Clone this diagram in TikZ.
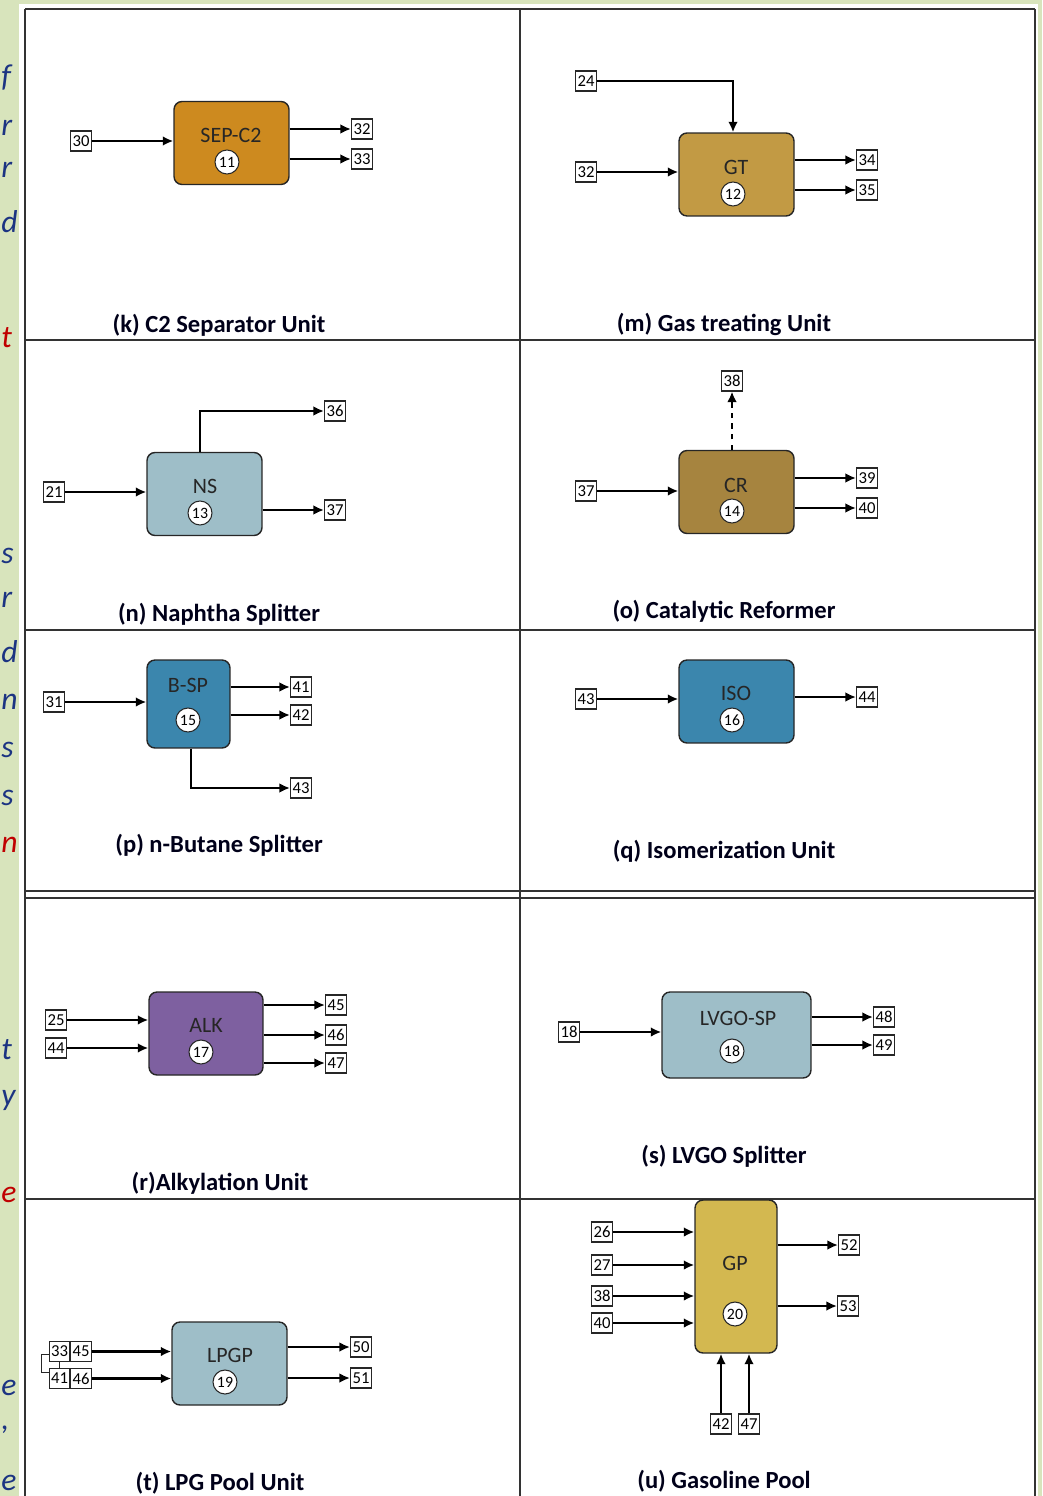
\documentclass[tikz,border=0pt]{standalone}
\usepackage{fontspec}
\setmainfont{Carlito}
\usetikzlibrary{arrows.meta,positioning}

\begin{document}
\begin{tikzpicture}[x=0.02cm,y=-0.02cm,
    unit/.style={draw=black!85,line width=0.8pt,rounded corners=0.16cm,minimum width=2.3cm,minimum height=1.66cm},
    unitlbl/.style={font=\fontsize{12.5}{12.5}\selectfont,text=black!85},
    tag/.style={circle,draw=black!85,fill=white,line width=0.6pt,inner sep=0pt,minimum size=0.48cm,font=\fontsize{9}{9}\selectfont},
    strm/.style={draw=black!85,fill=white,line width=0.6pt,inner sep=0pt,minimum width=0.42cm,minimum height=0.4cm,font=\fontsize{9.5}{9.5}\selectfont},
    flow/.style={draw=black,line width=1.2pt,-{Latex[length=6pt,width=5.5pt]}},
    subcap/.style={font=\fontsize{14}{14}\selectfont\bfseries,text=black!90!blue},
    frame/.style={draw=black!80,line width=0.7pt},
    frag/.style={font=\fontsize{18}{18}\selectfont\itshape,anchor=west,inner sep=0pt}]
    \definecolor{sepc}{RGB}{205,138,31}
    \definecolor{gtc}{RGB}{194,154,68}
    \definecolor{lbluec}{RGB}{158,190,200}
    \definecolor{crc}{RGB}{166,132,63}
    \definecolor{bluec}{RGB}{59,134,173}
    \definecolor{alkc}{RGB}{126,96,160}
    \definecolor{gpc}{RGB}{211,184,80}
    \definecolor{stripc}{RGB}{216,228,188}
    \definecolor{fragblue}{RGB}{28,52,130}
    \definecolor{fragred}{RGB}{192,0,0}
    \useasboundingbox (0,0) rectangle (1042,1496);

    % page background and the ends of the text on the left
    \fill[stripc] (0,0) rectangle (19,1496);
    \fill[stripc] (19,0) rectangle (1042,4);
    \fill[stripc] (1038,0) rectangle (1042,1496);
    \foreach \yy/\ch in {78/f,128/r,170/r,222/d,556/s,600/r,652/d,702/n,750/s,798/s,1050/t,1100/y,1388/e,1430/{,},1483/e}
      \node[frag,text=fragblue] at (1,\yy) {\ch};
    \foreach \yy/\ch in {338/t,845/n,1195/e}
      \node[frag,text=fragred] at (1,\yy) {\ch};

    % table frame
    \draw[frame] (25,9) -- (1035,9);
    \draw[frame,line width=1pt] (25,9) -- (25,1496);
    \draw[frame] (1035,9) -- (1035,1496);
    \draw[frame] (520,9) -- (520,1496);
    \draw[frame] (25,340) -- (1035,340);
    \draw[frame] (25,630) -- (1035,630);
    \draw[frame] (25,891) -- (1035,891);
    \draw[frame] (25,898) -- (1035,898);
    \draw[frame] (25,1199) -- (1035,1199);

    % (k) C2 separator
    \node[unit,fill=sepc] (sep) at (231.5,143) {};
    \node[unitlbl] (sepl) at (231,135) {SEP-C2};
    \node[tag] (u11) at (227,162) {11};
    \node[strm] (k30) at (81,141) {30};
    \node[strm] (k32) at (362,129) {32};
    \node[strm] (k33) at (362,159) {33};
    \draw[flow] (k30.east) -- (k30 -| sep.west);
    \draw[flow] (sep.east |- k32) -- (k32.west);
    \draw[flow] (sep.east |- k33) -- (k33.west);
    \node[subcap] (capk) at (219,325) {(k) C2 Separator Unit};

    % (m) gas treating
    \node[unit,fill=gtc] (gt) at (736.5,174.5) {};
    \node[unitlbl] (gtl) at (736,167) {GT};
    \node[tag] (u12) at (733,194) {12};
    \node[strm] (m24) at (586,81) {24};
    \node[strm] (m32) at (586,172) {32};
    \node[strm] (m34) at (867,160) {34};
    \node[strm] (m35) at (867,190) {35};
    \draw[flow] (m24.east) -| ([xshift=-0.07cm]gt.north);
    \draw[flow] (m32.east) -- (m32 -| gt.west);
    \draw[flow] (gt.east |- m34) -- (m34.west);
    \draw[flow] (gt.east |- m35) -- (m35.west);
    \node[subcap] (capm) at (724,324) {(m) Gas treating Unit};

    % (n) naphtha splitter
    \node[unit,fill=lbluec] (ns) at (204.5,494) {};
    \node[unitlbl] (nsl) at (205,486) {NS};
    \node[tag] (u13) at (200,513) {13};
    \node[strm] (n21) at (54,492) {21};
    \node[strm] (n36) at (335,411) {36};
    \node[strm] (n37) at (335,510) {37};
    \draw[flow] (n21.east) -- (n21 -| ns.west);
    \draw[flow] ([xshift=-0.09cm]ns.north) |- (n36.west);
    \draw[flow] (ns.east |- n37) -- (n37.west);
    \node[subcap] (capn) at (219,614) {(n) Naphtha Splitter};

    % (o) catalytic reformer
    \node[unit,fill=crc] (cr) at (736.5,492) {};
    \node[unitlbl] (crl) at (736,485) {CR};
    \node[tag] (u14) at (732,511) {14};
    \node[strm] (o38) at (732,381) {38};
    \node[strm] (o37) at (586,491) {37};
    \node[strm] (o39) at (867,478) {39};
    \node[strm] (o40) at (867,508) {40};
    \draw[flow,dashed] (o38 |- cr.north) -- (o38.south);
    \draw[flow] (o37.east) -- (o37 -| cr.west);
    \draw[flow] (cr.east |- o39) -- (o39.west);
    \draw[flow] (cr.east |- o40) -- (o40.west);
    \node[subcap] (capo) at (724,611) {(o) Catalytic Reformer};

    % (p) n-butane splitter
    \node[unit,fill=bluec,minimum width=1.66cm,minimum height=1.76cm] (bsp) at (188.5,704) {};
    \node[unitlbl] (bspl) at (188,685) {B-SP};
    \node[tag] (u15) at (188,720) {15};
    \node[strm] (p31) at (54,702) {31};
    \node[strm] (p41) at (301,687) {41};
    \node[strm] (p42) at (301,715) {42};
    \node[strm] (p43) at (301,788) {43};
    \draw[flow] (p31.east) -- (p31 -| bsp.west);
    \draw[flow] (bsp.east |- p41) -- (p41.west);
    \draw[flow] (bsp.east |- p42) -- (p42.west);
    \draw[flow] ([xshift=0.05cm]bsp.south) |- (p43.west);
    \node[subcap] (capp) at (219,845) {(p) n-Butane Splitter};

    % (q) isomerization
    \node[unit,fill=bluec] (iso) at (736.5,701.5) {};
    \node[unitlbl] (isol) at (736,693) {ISO};
    \node[tag] (u16) at (732,720) {16};
    \node[strm] (q43) at (586,699) {43};
    \node[strm] (q44) at (867,697) {44};
    \draw[flow] (q43.east) -- (q43 -| iso.west);
    \draw[flow] (iso.east |- q44) -- (q44.west);
    \node[subcap] (capq) at (724,851) {(q) Isomerization Unit};

    % (r) alkylation
    \node[unit,fill=alkc,minimum width=2.28cm] (alk) at (206,1033.5) {};
    \node[unitlbl] (alkl) at (206,1025) {ALK};
    \node[tag] (u17) at (201,1052) {17};
    \node[strm] (r25) at (56,1020) {25};
    \node[strm] (r44) at (56,1048) {44};
    \node[strm] (r45) at (336,1005) {45};
    \node[strm] (r46) at (336,1035) {46};
    \node[strm] (r47) at (336,1063) {47};
    \draw[flow] (r25.east) -- (r25 -| alk.west);
    \draw[flow] (r44.east) -- (r44 -| alk.west);
    \draw[flow] (alk.east |- r45) -- (r45.west);
    \draw[flow] (alk.east |- r46) -- (r46.west);
    \draw[flow] (alk.east |- r47) -- (r47.west);
    \node[subcap] (capr) at (220,1183) {(r)Alkylation Unit};

    % (s) LVGO splitter
    \node[unit,fill=lbluec,minimum width=2.98cm,minimum height=1.72cm] (lvgo) at (736.5,1035) {};
    \node[unitlbl] (lvgol) at (738,1018) {LVGO-SP};
    \node[tag] (u18) at (732,1051) {18};
    \node[strm] (s18) at (569,1032) {18};
    \node[strm] (s48) at (884,1017) {48};
    \node[strm] (s49) at (884,1045) {49};
    \draw[flow] (s18.east) -- (s18 -| lvgo.west);
    \draw[flow] (lvgo.east |- s48) -- (s48.west);
    \draw[flow] (lvgo.east |- s49) -- (s49.west);
    \node[subcap] (caps) at (724,1156) {(s) LVGO Splitter};

    % (t) LPG pool
    \node[unit,fill=lbluec] (lpgp) at (229.5,1363.5) {};
    \node[unitlbl] (lpgpl) at (230,1355) {LPGP};
    \node[tag] (u19) at (225,1382) {19};
    \draw[draw=black!85,line width=0.5pt] (59.5,1354) -- (41,1354) -- (41,1372) -- (59.5,1372);
    \node[strm,minimum width=0.41cm] (t33) at (59.5,1351.5) {33};
    \node[strm,minimum width=0.41cm,right=0pt of t33] (t45) {45};
    \node[strm,minimum width=0.41cm] (t41) at (59.5,1378.5) {41};
    \node[strm,minimum width=0.41cm,right=0pt of t41] (t46) {46};
    \draw[draw=black!85,line width=0.5pt] (t33.south) -- (t41.north);
    \node[strm] (t50) at (361,1347) {50};
    \node[strm] (t51) at (361,1378) {51};
    \draw[flow] (t45.east) -- (t45 -| lpgp.west);
    \draw[flow] (t46.east) -- (t46 -| lpgp.west);
    \draw[flow] (lpgp.east |- t50) -- (t50.west);
    \draw[flow] (lpgp.east |- t51) -- (t51.west);
    \node[subcap] (capt) at (220,1483) {(t) LPG Pool Unit};

    % (u) gasoline pool
    \node[unit,fill=gpc,minimum width=1.64cm,minimum height=3.06cm] (gp) at (736,1276.5) {};
    \node[unitlbl] (gpl) at (735,1263) {GP};
    \node[tag] (u20) at (735,1314) {20};
    \node[strm] (u26) at (602,1232) {26};
    \node[strm] (u27) at (602,1265) {27};
    \node[strm] (u38) at (602,1296) {38};
    \node[strm] (u40) at (602,1323) {40};
    \node[strm] (u52) at (849,1245) {52};
    \node[strm] (u53) at (848,1306) {53};
    \node[strm] (u42) at (721,1424) {42};
    \node[strm] (u47) at (749,1424) {47};
    \draw[flow] (u26.east) -- (u26 -| gp.west);
    \draw[flow] (u27.east) -- (u27 -| gp.west);
    \draw[flow] (u38.east) -- (u38 -| gp.west);
    \draw[flow] (u40.east) -- (u40 -| gp.west);
    \draw[flow] (gp.east |- u52) -- (u52.west);
    \draw[flow] (gp.east |- u53) -- (u53.west);
    \draw[flow] (u42.north) -- (u42 |- gp.south);
    \draw[flow] (u47.north) -- (u47 |- gp.south);
    \node[subcap] (capu) at (724,1481) {(u) Gasoline Pool};
\end{tikzpicture}
\end{document}
